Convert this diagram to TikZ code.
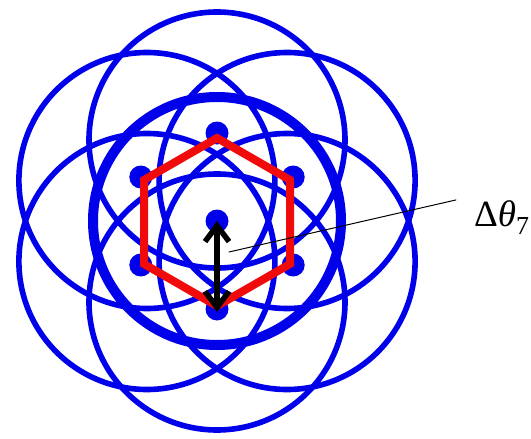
\documentclass[tikz,border=0pt]{standalone}
\usepackage{fontspec}
\setmainfont{Liberation Serif}
\usetikzlibrary{arrows.meta}
\definecolor{ringblue}{RGB}{0,0,235}
\definecolor{hexred}{RGB}{240,10,10}
\begin{document}
\begin{tikzpicture}[x=1pt, y=-1pt, line cap=round, line join=round,
    ring/.style={draw=ringblue, line width=5.6pt},
    mainring/.style={draw=ringblue, line width=10pt},
    dot/.style={circle, fill=ringblue, inner sep=0pt, minimum size=23pt},
    hexa/.style={draw=hexred, line width=8pt, line join=miter},
    darr/.style={line width=5.5pt,
      {Straight Barb[length=16pt,width=24pt]}-{Straight Barb[length=16pt,width=24pt]}},
    leader/.style={line width=1pt},
    lbl/.style={inner sep=0pt, font=\fontsize{37}{44}\selectfont}]
  \useasboundingbox (0,0) rectangle (531,439);
  \clip (0,0) rectangle (531,439);
  % centres of the six outer rings
  \coordinate (cU) at (217,140);
  \coordinate (cUR) at (287.1,180.5);
  \coordinate (cDR) at (287.1,261.5);
  \coordinate (cD) at (217,302);
  \coordinate (cDL) at (146.9,261.5);
  \coordinate (cUL) at (146.9,180.5);
  \draw[ring] (cU) circle[radius=128pt];
  \draw[ring] (cUR) circle[radius=128pt];
  \draw[ring] (cDR) circle[radius=128pt];
  \draw[ring] (cD) circle[radius=128pt];
  \draw[ring] (cDL) circle[radius=128pt];
  \draw[ring] (cUL) circle[radius=128pt];
  % central ring, drawn heavier
  \coordinate (o) at (217,221);
  \draw[mainring] (o) circle[radius=124pt];
  % lattice points
  \node[dot] (d0) at (217,221) {};
  \node[dot] (dU) at (217,133) {};
  \node[dot] (dUR) at (293.2,177) {};
  \node[dot] (dDR) at (293.2,265) {};
  \node[dot] (dD) at (217,309) {};
  \node[dot] (dDL) at (140.8,265) {};
  \node[dot] (dUL) at (140.8,177) {};
  % red hexagon
  \coordinate (hU) at (217,138);
  \coordinate (hUR) at (290,180);
  \coordinate (hDR) at (290,264);
  \coordinate (hD) at (217,306);
  \coordinate (hDL) at (144,264);
  \coordinate (hUL) at (144,180);
  \draw[hexa] (hU) -- (hUR) -- (hDR) -- (hD) -- (hDL) -- (hUL) -- cycle;
  % spacing arrow and its label
  \coordinate (tipD) at (217,312);
  \draw[darr] (d0.center) -- (tipD);
  \coordinate (lead) at (229,252);
  \node[lbl, anchor=base west] (lbl) at (474,226) {Δ{\itshape θ}\textsubscript{7}};
  \draw[leader] (lead) -- ([xshift=-18pt]lbl.north west);
\end{tikzpicture}
\end{document}
